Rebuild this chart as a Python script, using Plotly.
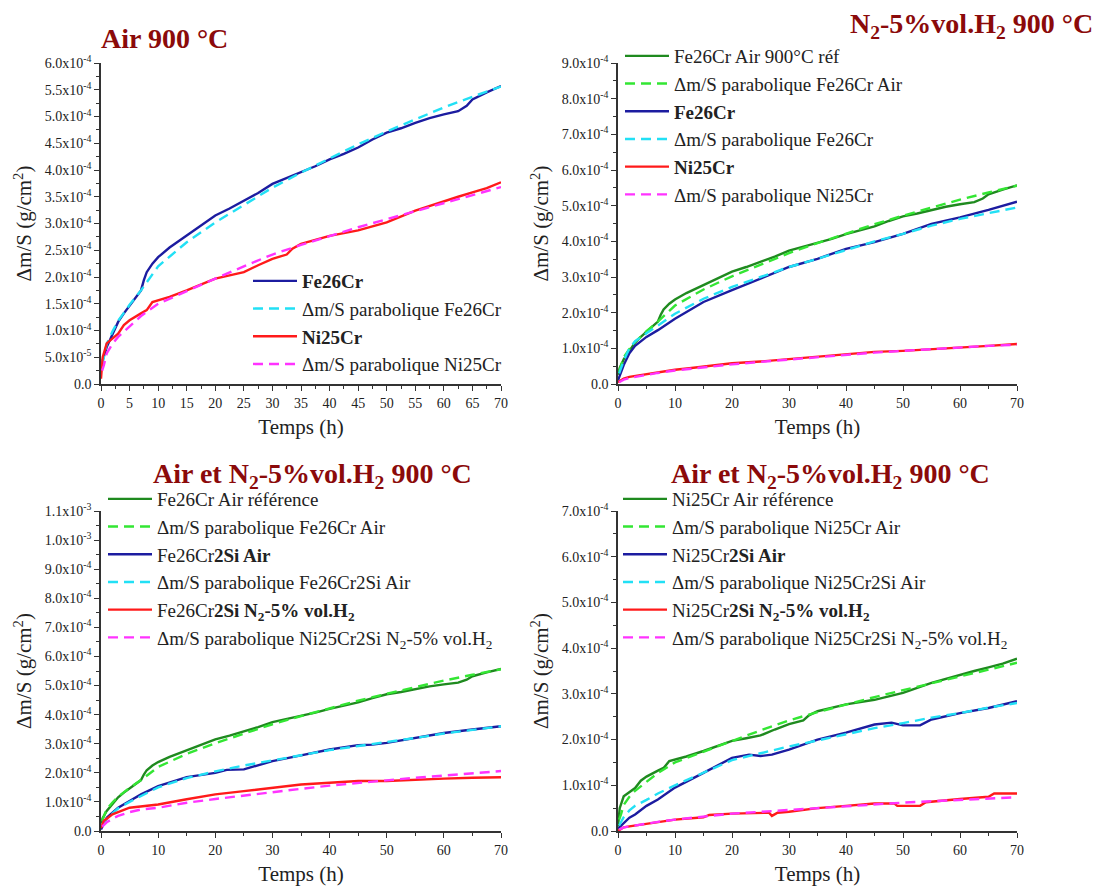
import plotly.graph_objects as go

# ---------------- data (Δm/S values in units of 1e-4 g/cm², time in h) ----------------
T_PAR = [0.2, 0.5, 1, 2, 3, 5, 7, 10, 15, 20, 25, 30, 35, 40, 45, 50, 55, 60, 65, 70]

# Fe26Cr in air, 900 °C (reference)
T_FE_AIR = [0, 0.3, 1, 2, 3, 4, 5, 6, 7, 7.5, 8, 9, 10, 12, 15, 17.5, 20, 22.5, 25, 27.5,
            30, 32.5, 35, 37.5, 40, 42.5, 45, 47.5, 50, 52.5, 55, 57.5, 60, 62.5, 64, 65, 67.5, 70]
FE_AIR = [0.26, 0.45, 0.69, 0.94, 1.16, 1.32, 1.47, 1.62, 1.75, 1.94, 2.09, 2.25, 2.37, 2.55,
          2.77, 2.97, 3.15, 3.28, 3.42, 3.57, 3.74, 3.85, 3.95, 4.07, 4.20, 4.30, 4.42, 4.57,
          4.70, 4.78, 4.88, 4.97, 5.04, 5.10, 5.20, 5.32, 5.45, 5.57]
FE_AIR_PAR = [0.35, 0.50, 0.75, 0.98, 1.18, 1.48, 1.75, 2.20, 2.65, 3.02, 3.35, 3.67, 3.95,
              4.22, 4.48, 4.72, 4.95, 5.17, 5.37, 5.56]

# Ni25Cr in air, 900 °C (reference)
T_NI_AIR = [0, 0.3, 1, 2, 3, 4, 5, 7, 8, 9, 10, 12, 15, 17, 20, 22.5, 25, 27.5, 30, 32.5,
            33.5, 35, 40, 45, 47.5, 50, 55, 60, 62.5, 65, 67.5, 70]
NI_AIR = [0.10, 0.50, 0.76, 0.85, 0.94, 1.10, 1.19, 1.32, 1.38, 1.53, 1.56, 1.63, 1.75, 1.84,
          1.97, 2.03, 2.09, 2.22, 2.34, 2.42, 2.53, 2.62, 2.77, 2.87, 2.94, 3.02, 3.24, 3.42,
          3.50, 3.58, 3.66, 3.77]
NI_AIR_PAR = [0.25, 0.35, 0.57, 0.75, 0.88, 1.08, 1.27, 1.50, 1.74, 1.97, 2.20, 2.42, 2.60,
              2.77, 2.93, 3.08, 3.23, 3.38, 3.52, 3.68]

# Fe26Cr in N2-5%vol.H2
T_FE_N2 = [0, 1, 2, 3, 5, 7, 10, 15, 20, 25, 30, 35, 40, 45, 50, 55, 60, 65, 70]
FE_N2 = [0.10, 0.53, 0.86, 1.07, 1.32, 1.51, 1.83, 2.30, 2.63, 2.95, 3.28, 3.51, 3.79, 3.98,
         4.21, 4.49, 4.67, 4.88, 5.11]
FE_N2_PAR = [0.30, 0.45, 0.65, 1.00, 1.20, 1.42, 1.65, 1.97, 2.39, 2.72, 3.00, 3.28, 3.51,
             3.76, 4.00, 4.21, 4.44, 4.63, 4.79, 4.95]

# Ni25Cr in N2-5%vol.H2
T_NI_N2 = [0, 1, 2, 5, 7.5, 10, 12.5, 15, 17.5, 20, 25, 30, 35, 40, 45, 50, 55, 60, 65, 70]
NI_N2 = [0.05, 0.15, 0.20, 0.28, 0.35, 0.40, 0.44, 0.48, 0.53, 0.58, 0.63, 0.70, 0.76, 0.82,
         0.90, 0.93, 0.97, 1.02, 1.07, 1.12]
NI_N2_PAR = [0.05, 0.08, 0.12, 0.17, 0.20, 0.26, 0.31, 0.38, 0.47, 0.55, 0.62, 0.69, 0.76,
             0.82, 0.88, 0.93, 0.98, 1.03, 1.07, 1.10]

# Fe26Cr2Si in air
T_FESI_AIR = [0, 1, 2, 3, 5, 7, 10, 15, 20, 22, 25, 30, 35, 40, 45, 47.5, 50, 55, 60, 65, 70]
FESI_AIR = [0.05, 0.46, 0.63, 0.80, 1.03, 1.26, 1.54, 1.85, 2.00, 2.10, 2.12, 2.40, 2.60, 2.80,
            2.95, 2.97, 3.03, 3.20, 3.37, 3.49, 3.60]
FESI_AIR_PAR = [0.15, 0.30, 0.42, 0.60, 0.78, 1.00, 1.20, 1.50, 1.82, 2.05, 2.25, 2.42, 2.60,
                2.78, 2.92, 3.05, 3.20, 3.35, 3.48, 3.60]

# Fe26Cr2Si in N2-5%vol.H2
T_FESI_N2 = [0, 0.5, 1, 2, 5, 10, 15, 20, 25, 30, 35, 40, 45, 50, 55, 60, 65, 70]
FESI_N2 = [0.10, 0.35, 0.42, 0.57, 0.80, 0.91, 1.09, 1.26, 1.37, 1.49, 1.60, 1.66, 1.72, 1.72,
           1.77, 1.80, 1.83, 1.85]
FESI_N2_PAR = [0.15, 0.20, 0.30, 0.42, 0.52, 0.65, 0.74, 0.80, 0.97, 1.10, 1.22, 1.35, 1.45,
               1.56, 1.66, 1.74, 1.83, 1.90, 1.98, 2.06]

# Ni25Cr2Si in air
T_NISI_AIR = [0, 1, 2, 3, 5, 7, 10, 15, 20, 23, 25, 27, 30, 35, 40, 45, 48, 50, 53, 55, 60, 65, 70]
NISI_AIR = [0.05, 0.18, 0.29, 0.36, 0.55, 0.69, 0.95, 1.27, 1.60, 1.67, 1.64, 1.67, 1.78, 2.00,
            2.15, 2.33, 2.37, 2.31, 2.31, 2.44, 2.58, 2.69, 2.84]
NISI_AIR_PAR = [0.12, 0.20, 0.30, 0.45, 0.55, 0.68, 0.82, 1.00, 1.28, 1.55, 1.70, 1.85, 1.98,
                2.12, 2.25, 2.36, 2.48, 2.58, 2.70, 2.80]

# Ni25Cr2Si in N2-5%vol.H2
T_NISI_N2 = [0, 1, 2, 5, 10, 15, 16, 20, 25, 26.5, 27, 28, 30, 32, 35, 40, 45, 48.5, 49, 53,
             54, 60, 65, 66, 70]
NISI_N2 = [0.00, 0.08, 0.10, 0.15, 0.25, 0.30, 0.35, 0.38, 0.40, 0.40, 0.33, 0.40, 0.42, 0.45,
           0.50, 0.55, 0.60, 0.60, 0.55, 0.55, 0.63, 0.70, 0.75, 0.82, 0.82]
NISI_N2_PAR = [0.03, 0.05, 0.08, 0.10, 0.12, 0.17, 0.20, 0.25, 0.31, 0.38, 0.42, 0.46, 0.50,
               0.55, 0.58, 0.62, 0.65, 0.68, 0.71, 0.74]

# tick labels
Y1_VALS = [0, 0.5, 1, 1.5, 2, 2.5, 3, 3.5, 4, 4.5, 5, 5.5, 6]
Y1_TEXT = ["0.0", "5.0x10<sup>-5</sup>", "1.0x10<sup>-4</sup>", "1.5x10<sup>-4</sup>",
           "2.0x10<sup>-4</sup>", "2.5x10<sup>-4</sup>", "3.0x10<sup>-4</sup>", "3.5x10<sup>-4</sup>",
           "4.0x10<sup>-4</sup>", "4.5x10<sup>-4</sup>", "5.0x10<sup>-4</sup>", "5.5x10<sup>-4</sup>",
           "6.0x10<sup>-4</sup>"]
Y2_VALS = [0, 1, 2, 3, 4, 5, 6, 7, 8, 9]
Y2_TEXT = ["0.0"] + ["%d.0x10<sup>-4</sup>" % v for v in Y2_VALS[1:]]
Y3_VALS = [0, 1, 2, 3, 4, 5, 6, 7, 8, 9, 10, 11]
Y3_TEXT = ["0.0"] + ["%d.0x10<sup>-4</sup>" % v for v in Y3_VALS[1:10]] + \
          ["1.0x10<sup>-3</sup>", "1.1x10<sup>-3</sup>"]
Y4_VALS = [0, 1, 2, 3, 4, 5, 6, 7]
Y4_TEXT = ["0.0"] + ["%d.0x10<sup>-4</sup>" % v for v in Y4_VALS[1:]]

# ---------------- styling ----------------
SERIF = "Liberation Serif, Times New Roman, serif"
DARK_GREEN = "#1f8a1f"
LIGHT_GREEN = "#33e633"
BLUE = "#1c1ca0"
CYAN = "#22e0f5"
RED = "#ff1a1a"
MAGENTA = "#ff33ff"
TITLE_RED = "#8b0a0a"
LW = 2.4

fig = go.Figure()


def add(x, y, name, color, dash, xa, ya, legend):
    fig.add_trace(go.Scatter(
        x=x, y=y, name=name, mode="lines",
        line=dict(color=color, width=LW, dash=dash),
        xaxis=xa, yaxis=ya, legend=legend))


SOLID, DASH = "solid", "10px,6px"

# panel 1
add(T_FE_AIR, FE_AIR, "<b>Fe26Cr</b>", BLUE, SOLID, "x", "y", "legend")
add(T_PAR, FE_AIR_PAR, "Δm/S parabolique Fe26Cr", CYAN, DASH, "x", "y", "legend")
add(T_NI_AIR, NI_AIR, "<b>Ni25Cr</b>", RED, SOLID, "x", "y", "legend")
add(T_PAR, NI_AIR_PAR, "Δm/S parabolique Ni25Cr", MAGENTA, DASH, "x", "y", "legend")

# panel 2
add(T_FE_AIR, FE_AIR, "Fe26Cr Air 900°C réf", DARK_GREEN, SOLID, "x2", "y2", "legend2")
add(T_PAR, FE_AIR_PAR, "Δm/S parabolique Fe26Cr Air", LIGHT_GREEN, DASH, "x2", "y2", "legend2")
add(T_FE_N2, FE_N2, "<b>Fe26Cr</b>", BLUE, SOLID, "x2", "y2", "legend2")
add(T_PAR, FE_N2_PAR, "Δm/S parabolique Fe26Cr", CYAN, DASH, "x2", "y2", "legend2")
add(T_NI_N2, NI_N2, "<b>Ni25Cr</b>", RED, SOLID, "x2", "y2", "legend2")
add(T_PAR, NI_N2_PAR, "Δm/S parabolique Ni25Cr", MAGENTA, DASH, "x2", "y2", "legend2")

# panel 3
add(T_FE_AIR, FE_AIR, "Fe26Cr Air référence", DARK_GREEN, SOLID, "x3", "y3", "legend3")
add(T_PAR, FE_AIR_PAR, "Δm/S parabolique Fe26Cr Air", LIGHT_GREEN, DASH, "x3", "y3", "legend3")
add(T_FESI_AIR, FESI_AIR, "Fe26Cr<b>2Si Air</b>", BLUE, SOLID, "x3", "y3", "legend3")
add(T_PAR, FESI_AIR_PAR, "Δm/S parabolique Fe26Cr2Si Air", CYAN, DASH, "x3", "y3", "legend3")
add(T_FESI_N2, FESI_N2, "Fe26Cr<b>2Si N<sub>2</sub>-5% vol.H<sub>2</sub></b>", RED, SOLID,
    "x3", "y3", "legend3")
add(T_PAR, FESI_N2_PAR, "Δm/S parabolique Ni25Cr2Si N<sub>2</sub>-5% vol.H<sub>2</sub>",
    MAGENTA, DASH, "x3", "y3", "legend3")

# panel 4
add(T_NI_AIR, NI_AIR, "Ni25Cr Air référence", DARK_GREEN, SOLID, "x4", "y4", "legend4")
add(T_PAR, NI_AIR_PAR, "Δm/S parabolique Ni25Cr Air", LIGHT_GREEN, DASH, "x4", "y4", "legend4")
add(T_NISI_AIR, NISI_AIR, "Ni25Cr<b>2Si Air</b>", BLUE, SOLID, "x4", "y4", "legend4")
add(T_PAR, NISI_AIR_PAR, "Δm/S parabolique Ni25Cr2Si Air", CYAN, DASH, "x4", "y4", "legend4")
add(T_NISI_N2, NISI_N2, "Ni25Cr<b>2Si N<sub>2</sub>-5% vol.H<sub>2</sub></b>", RED, SOLID,
    "x4", "y4", "legend4")
add(T_PAR, NISI_N2_PAR, "Δm/S parabolique Ni25Cr2Si N<sub>2</sub>-5% vol.H<sub>2</sub>",
    MAGENTA, DASH, "x4", "y4", "legend4")

W, H = 1095, 887


def px_x(p):
    return p / W


def px_y(p):
    return (H - p) / H


AX_COLOR = "#333333"
TICK_FONT = dict(family=SERIF, size=14, color="#222222")
TITLE_FONT = dict(family=SERIF, size=21, color="#222222")


def xaxis(domain, dtick, minor_dtick, anchor):
    return dict(domain=domain, range=[0, 70], anchor=anchor, dtick=dtick, tick0=0,
                showgrid=False, zeroline=False, showline=True, linecolor=AX_COLOR,
                linewidth=1.5, ticks="outside", ticklen=5, tickwidth=1.3, tickcolor=AX_COLOR,
                minor=dict(ticks="outside", ticklen=3, dtick=minor_dtick, tick0=0,
                           tickcolor=AX_COLOR, showgrid=False),
                tickfont=TICK_FONT, automargin=False,
                title=dict(text="Temps (h)", font=TITLE_FONT, standoff=10))


def yaxis(domain, rng, vals, text, minor_dtick, anchor):
    return dict(domain=domain, range=rng, anchor=anchor, tickmode="array", tickvals=vals,
                ticktext=text, showgrid=False, zeroline=False, showline=True,
                linecolor=AX_COLOR, linewidth=1.5, ticks="outside", ticklen=5, tickwidth=1.3,
                tickcolor=AX_COLOR,
                minor=dict(ticks="outside", ticklen=3, dtick=minor_dtick, tick0=0,
                           tickcolor=AX_COLOR, showgrid=False),
                tickfont=TICK_FONT, automargin=False,
                title=dict(text="Δm/S (g/cm<sup>2</sup>)", font=TITLE_FONT, standoff=7))


XL = [px_x(101), px_x(501)]
XR = [px_x(618), px_x(1017)]
YT = [px_y(384), px_y(63)]
YB = [px_y(831), px_y(511)]

LEG_FONT = dict(family=SERIF, size=19, color="#222222")


def legend(xp, yp):
    return dict(x=px_x(xp), y=px_y(yp), xanchor="left", yanchor="top",
                bgcolor="rgba(0,0,0,0)", borderwidth=0, font=LEG_FONT,
                itemwidth=44, tracegroupgap=0, traceorder="normal")


fig.update_layout(
    width=W, height=H, autosize=False,
    paper_bgcolor="white", plot_bgcolor="white",
    margin=dict(l=0, r=0, t=0, b=0, pad=0, autoexpand=False),
    showlegend=True,
    xaxis=xaxis(XL, 5, 2.5, "y"),
    yaxis=yaxis(YT, [0, 6], Y1_VALS, Y1_TEXT, 0.25, "x"),
    xaxis2=xaxis(XR, 10, 5, "y2"),
    yaxis2=yaxis(YT, [0, 9], Y2_VALS, Y2_TEXT, 0.5, "x2"),
    xaxis3=xaxis(XL, 10, 5, "y3"),
    yaxis3=yaxis(YB, [0, 11], Y3_VALS, Y3_TEXT, 0.5, "x3"),
    xaxis4=xaxis(XR, 10, 5, "y4"),
    yaxis4=yaxis(YB, [0, 7], Y4_VALS, Y4_TEXT, 0.5, "x4"),
    legend=legend(248, 262),
    legend2=legend(620, 37),
    legend3=legend(103, 480),
    legend4=legend(618, 480),
)

TFONT = dict(family=SERIF, size=28, color=TITLE_RED)
fig.add_annotation(text="<b>Air 900 °C</b>", x=px_x(99), y=px_y(38), xref="paper",
                   yref="paper", xanchor="left", yanchor="middle", showarrow=False, font=TFONT)
fig.add_annotation(text="<b>N<sub>2</sub>-5%vol.H<sub>2</sub> 900 °C</b>", x=px_x(1095),
                   y=px_y(25), xref="paper", yref="paper", xanchor="right", yanchor="middle",
                   showarrow=False, font=TFONT)
fig.add_annotation(text="<b>Air et N<sub>2</sub>-5%vol.H<sub>2</sub> 900 °C</b>", x=px_x(312),
                   y=px_y(475), xref="paper", yref="paper", xanchor="center", yanchor="middle",
                   showarrow=False, font=TFONT)
fig.add_annotation(text="<b>Air et N<sub>2</sub>-5%vol.H<sub>2</sub> 900 °C</b>", x=px_x(830),
                   y=px_y(475), xref="paper", yref="paper", xanchor="center", yanchor="middle",
                   showarrow=False, font=TFONT)

fig.write_html("out.html", config={"displayModeBar": False},
               post_script="document.body.style.margin='0';")
